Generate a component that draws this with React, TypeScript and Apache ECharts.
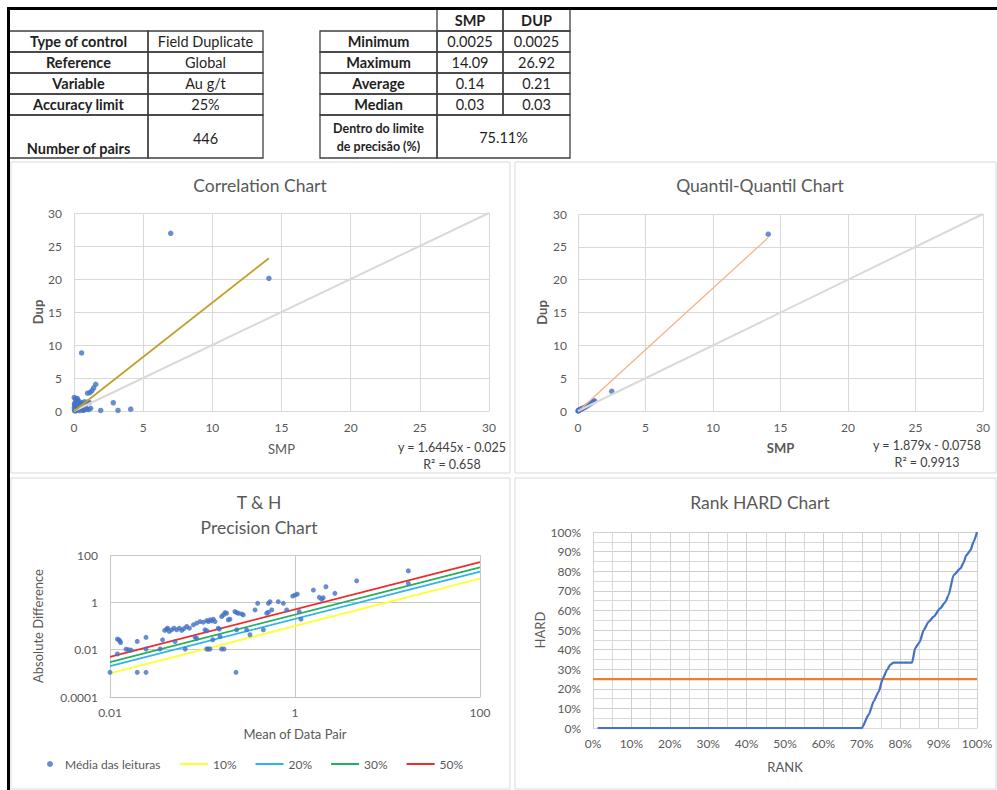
import React, { useEffect, useRef } from "react";
import * as echarts from "echarts";

const FONT = "Lato, 'Open Sans', sans-serif";

// ---------- Summary tables ----------
const controlLabels = ["Type of control", "Reference", "Variable", "Accuracy limit", "Number of pairs"];
const controlValues = ["Field Duplicate", "Global", "Au g/t", "25%", "446"];
const statHeaders = ["SMP", "DUP"];
const statLabels = ["Minimum", "Maximum", "Average", "Median"];
const statSmp = ["0.0025", "14.09", "0.14", "0.03"];
const statDup = ["0.0025", "26.92", "0.21", "0.03"];
const precisionLabel = ["Dentro do limite", "de precisão (%)"];
const precisionValue = "75.11%";

// ---------- Correlation chart (SMP, DUP) ----------
const corrPairs: [number, number][] = [
  [6.99, 26.92], [14.09, 20.1], [0.55, 8.8], [1.57, 4.05], [1.42, 3.5], [1.3, 3.1],
  [1.16, 2.8], [0.98, 2.7], [2.84, 1.25], [1.93, 0.08], [3.18, 0.08], [4.1, 0.28],
  [0.02, 2.05], [0.1, 1.8], [0.22, 1.6], [0.3, 1.35], [0.45, 1.1], [0.55, 1.25],
  [0.65, 1.0], [0.75, 1.4], [0.96, 1.35], [1.1, 1.3], [0.8, 0.55], [0.9, 0.3],
  [1.05, 0.22], [0.72, 0.15], [0.04, 0.05], [0.1, 0.12], [0.15, 0.35], [0.2, 0.65],
  [0.27, 0.95], [0.05, 0.8], [0.08, 1.25], [0.3, 0.22], [0.36, 0.5], [0.45, 0.8],
  [0.5, 0.3], [0.6, 0.6], [0.66, 0.1], [0.13, 0.03], [0.02, 0.45], [0.03, 1.05],
  [0.18, 1.3], [0.4, 0.05], [0.24, 1.9], [0.12, 0.6], [0.35, 1.5], [0.55, 0.85],
  [0.85, 1.05], [1.2, 0.4],
];
const corrSlope = 1.6445;
const corrIntercept = -0.025;
const corrR2 = "0.658";

// ---------- Quantil-Quantil chart ----------
const qqPairs: [number, number][] = [
  [0.0025, 0.0025], [0.02, 0.03], [0.05, 0.08], [0.08, 0.14], [0.12, 0.2], [0.18, 0.26],
  [0.25, 0.3], [0.32, 0.38], [0.4, 0.46], [0.5, 0.55], [0.62, 0.7], [0.72, 0.85],
  [0.85, 1.0], [0.95, 1.15], [1.06, 1.32], [1.15, 1.45], [1.23, 1.55], [2.5, 3.0],
  [14.09, 26.92],
];
const qqSlope = 1.879;
const qqIntercept = -0.0758;
const qqR2 = "0.9913";

// ---------- T & H precision chart (mean of pair, absolute difference) ----------
const thPairs: [number, number][] = [
  [0.01, 0.0011], [0.012, 0.0066], [0.012, 0.028], [0.0125, 0.026], [0.0128, 0.023], [0.013, 0.02],
  [0.0149, 0.0105], [0.0158, 0.01], [0.0169, 0.0096], [0.0197, 0.0224], [0.0197, 0.0011],
  [0.0245, 0.033], [0.0245, 0.0107], [0.0245, 0.0011], [0.0348, 0.0107], [0.037, 0.026],
  [0.039, 0.065], [0.041, 0.074], [0.042, 0.081],
  [0.0437, 0.059], [0.0464, 0.069], [0.0492, 0.081], [0.0526, 0.069], [0.0563, 0.081],
  [0.0596, 0.065], [0.0631, 0.078], [0.0674, 0.095], [0.0722, 0.081],
  [0.0505, 0.022], [0.065, 0.0107], [0.083, 0.034], [0.0865, 0.03],
  [0.0796, 0.112], [0.0865, 0.1315], [0.094, 0.154], [0.102, 0.145], [0.111, 0.17],
  [0.1156, 0.154], [0.1205, 0.1815], [0.1256, 0.165], [0.131, 0.194], [0.1365, 0.154],
  [0.111, 0.0107], [0.1156, 0.0107], [0.1205, 0.0107], [0.1064, 0.069], [0.111, 0.063],
  [0.129, 0.0263], [0.148, 0.081], [0.152, 0.0736], [0.161, 0.25], [0.168, 0.294],
  [0.175, 0.368], [0.182, 0.345], [0.1545, 0.036], [0.161, 0.0107], [0.1706, 0.0107],
  [0.19, 0.1815], [0.198, 0.194], [0.224, 0.406], [0.234, 0.368], [0.234, 0.069],
  [0.23, 0.0011], [0.244, 0.345], [0.265, 0.324], [0.276, 0.294], [0.3, 0.069],
  [0.326, 0.0426], [0.37, 0.477], [0.395, 0.908], [0.455, 0.069], [0.494, 0.345],
  [0.515, 0.38], [0.515, 0.908], [0.537, 1.066], [0.56, 0.477], [0.66, 1.066],
  [0.748, 0.908], [0.813, 0.477], [0.944, 1.84], [1.0, 2.03], [1.06, 2.24],
  [1.11, 0.406], [1.16, 0.194], [1.58, 3.3], [1.83, 1.62], [1.94, 1.34], [2.02, 1.57],
  [2.16, 4.54], [2.7, 2.39], [4.64, 8.1], [16.8, 21.3], [16.8, 6.3],
];
const thLevels = [0.1, 0.2, 0.3, 0.5];
const thLevelNames = ["10%", "20%", "30%", "50%"];
const thLevelColors = ["#FFFF33", "#2EB4EA", "#22B060", "#F02A2A"];
const thRange = [0.01, 100];

// ---------- Rank HARD chart (rank, HARD) ----------
const rankPairs: [number, number][] = [
  [0.012, 0], [0.70, 0], [0.718, 0.068], [0.731, 0.136], [0.744, 0.186], [0.755, 0.254],
  [0.766, 0.297], [0.774, 0.322], [0.783, 0.334], [0.831, 0.334], [0.839, 0.407],
  [0.851, 0.44], [0.861, 0.5], [0.874, 0.542], [0.887, 0.568], [0.904, 0.61],
  [0.918, 0.644], [0.926, 0.678], [0.939, 0.78], [0.957, 0.814], [0.965, 0.844],
  [0.972, 0.881], [0.983, 0.907], [0.991, 0.949], [1.0, 1.0],
];
const accuracyLimit = 0.25;

const GRAY_TXT = "#595959";
const GRID_LINE = "#D9D9D9";

function buildGraphics() {
  const g: any[] = [];
  const border = "#3F3F3F";
  const cell = (x0: number, y0: number, x1: number, y1: number) =>
    g.push({
      type: "rect",
      silent: true,
      shape: { x: x0, y: y0, width: x1 - x0, height: y1 - y0 },
      style: { fill: "none", stroke: border, lineWidth: 1.3 },
    });
  const txt = (text: string, x: number, y: number, bold: boolean, size = 14.5) =>
    g.push({
      type: "text",
      silent: true,
      x,
      y,
      style: {
        text,
        fill: "#1F1F1F",
        fontSize: size,
        fontWeight: bold ? "bold" : "normal",
        fontFamily: FONT,
        align: "center",
        verticalAlign: "middle",
      },
    });

  // chart panels
  const panels = [
    [11, 162, 510, 473],
    [515, 162, 996, 473],
    [11, 478, 510, 789],
    [515, 478, 996, 789],
  ];
  panels.forEach(([x0, y0, x1, y1]) =>
    g.push({
      type: "rect",
      silent: true,
      shape: { x: x0, y: y0, width: x1 - x0, height: y1 - y0 },
      style: { fill: "none", stroke: GRID_LINE, lineWidth: 1 },
    })
  );

  // left table
  const lRows = [31, 52, 73, 94, 115, 158];
  const lCols = [9, 148, 263];
  controlLabels.forEach((lab, i) => {
    cell(lCols[0], lRows[i], lCols[1], lRows[i + 1]);
    cell(lCols[1], lRows[i], lCols[2], lRows[i + 1]);
    const last = i === controlLabels.length - 1;
    const mid = (lRows[i] + lRows[i + 1]) / 2;
    txt(lab, (lCols[0] + lCols[1]) / 2, last ? 148 : mid, true);
    txt(controlValues[i], (lCols[1] + lCols[2]) / 2, last ? 138 : mid, false);
  });

  // right table
  const rRows = [31, 52, 73, 94, 115, 158];
  const rCols = [320, 437, 503, 570];
  statHeaders.forEach((h, j) => {
    cell(rCols[j + 1], 9, rCols[j + 2], 31);
    txt(h, (rCols[j + 1] + rCols[j + 2]) / 2, 20, true);
  });
  statLabels.forEach((lab, i) => {
    const mid = (rRows[i] + rRows[i + 1]) / 2;
    cell(rCols[0], rRows[i], rCols[1], rRows[i + 1]);
    cell(rCols[1], rRows[i], rCols[2], rRows[i + 1]);
    cell(rCols[2], rRows[i], rCols[3], rRows[i + 1]);
    txt(lab, (rCols[0] + rCols[1]) / 2, mid, true);
    txt(statSmp[i], (rCols[1] + rCols[2]) / 2, mid, false);
    txt(statDup[i], (rCols[2] + rCols[3]) / 2, mid, false);
  });
  cell(rCols[0], rRows[4], rCols[1], rRows[5]);
  cell(rCols[1], rRows[4], rCols[3], rRows[5]);
  txt(precisionLabel[0], (rCols[0] + rCols[1]) / 2, 128, true, 12.5);
  txt(precisionLabel[1], (rCols[0] + rCols[1]) / 2, 146, true, 12.5);
  txt(precisionValue, (rCols[1] + rCols[3]) / 2, 137, false);

  // thick black frame lines
  g.push({ type: "rect", silent: true, shape: { x: 7, y: 7, width: 990, height: 3 }, style: { fill: "#000" } });
  g.push({ type: "rect", silent: true, shape: { x: 7, y: 7, width: 3, height: 783 }, style: { fill: "#000" } });

  // trendline equations
  const eq = (text: string, x: number, y: number) =>
    g.push({
      type: "text",
      silent: true,
      x,
      y,
      style: { text, fill: "#404040", fontSize: 12.5, fontFamily: FONT, align: "center", verticalAlign: "middle" },
    });
  const fmtEq = (s: number, b: number) => `y = ${s}x ${b < 0 ? "-" : "+"} ${Math.abs(b)}`;
  eq(fmtEq(corrSlope, corrIntercept), 452, 447);
  eq(`R² = ${corrR2}`, 452, 464);
  eq(fmtEq(qqSlope, qqIntercept), 927, 445);
  eq(`R² = ${qqR2}`, 927, 462);
  return g;
}

const axisLabel = (margin: number, extra: any = {}) => ({
  color: GRAY_TXT,
  fontSize: 12,
  fontFamily: FONT,
  margin,
  ...extra,
});
const nameStyle = (bold: boolean) => ({
  color: GRAY_TXT,
  fontSize: 13,
  fontFamily: FONT,
  fontWeight: bold ? "bold" : "normal",
});
const logFmt = (v: number) => String(Number(v.toPrecision(6)));
const pctFmt = (v: number) => `${Math.round(v * 100)}%`;

export default function App() {
  const ref = useRef<HTMLDivElement>(null);
  useEffect(() => {
    if (!ref.current) return;
    const chart = echarts.init(ref.current, undefined, { renderer: "svg" });

    const corrMaxX = Math.max(...corrPairs.map((p) => p[0]));
    const corrMinX = Math.min(...corrPairs.map((p) => p[0]));
    const qqMaxX = Math.max(...qqPairs.map((p) => p[0]));
    const qqMinX = Math.min(...qqPairs.map((p) => p[0]));

    const linearAxis = (gridIndex: number, name: string, bold: boolean, gap: number, isX: boolean, margin: number) => ({
      gridIndex,
      type: "value",
      min: 0,
      max: 30,
      interval: 5,
      name,
      nameLocation: "middle",
      nameGap: gap,
      nameTextStyle: nameStyle(bold),
      axisLine: { show: isX, lineStyle: { color: GRID_LINE } },
      axisTick: { show: false },
      splitLine: { lineStyle: { color: GRID_LINE } },
      axisLabel: axisLabel(margin),
    });

    const legendText = { color: GRAY_TXT, fontSize: 12, fontFamily: FONT };

    const option: any = {
      animation: false,
      backgroundColor: "#ffffff",
      textStyle: { fontFamily: FONT },
      title: [
        { text: "Correlation Chart", left: 260, top: 176 },
        { text: "Quantil-Quantil Chart", left: 760, top: 176 },
        { text: "T & H\nPrecision Chart", left: 259, top: 490, textStyle: { lineHeight: 25 } },
        { text: "Rank HARD Chart", left: 760, top: 493 },
      ].map((t) => ({
        ...t,
        textAlign: "center",
        padding: 0,
        textStyle: { fontSize: 17.5, fontWeight: "normal", color: GRAY_TXT, fontFamily: FONT, ...(t as any).textStyle },
      })),
      legend: [
        {
          data: [{ name: "Média das leituras", icon: "circle" }],
          left: 47,
          top: 758,
          padding: 0,
          itemWidth: 20,
          itemHeight: 6,
          textStyle: legendText,
        },
        {
          data: thLevelNames.map((n) => ({ name: n, icon: "rect" })),
          left: 180,
          top: 758,
          padding: 0,
          itemWidth: 28,
          itemHeight: 2,
          itemGap: 19,
          textStyle: legendText,
        },
      ],
      grid: [
        { left: 74, top: 213, width: 415, height: 198 },
        { left: 578, top: 214, width: 405, height: 197 },
        { left: 110, top: 555, width: 370, height: 142 },
        { left: 593, top: 532, width: 384, height: 196 },
      ],
      xAxis: [
        linearAxis(0, "SMP", false, 31, true, 10),
        linearAxis(1, "SMP", true, 30, true, 10),
        {
          gridIndex: 2,
          type: "log",
          logBase: 10,
          min: thRange[0],
          max: thRange[1],
          interval: 2,
          name: "Mean of Data Pair",
          nameLocation: "middle",
          nameGap: 30,
          nameTextStyle: nameStyle(false),
          axisLine: { show: true, lineStyle: { color: "#BFBFBF" } },
          axisTick: { show: false },
          minorTick: { show: false },
          splitLine: { lineStyle: { color: "#C8C8C8" } },
          axisLabel: axisLabel(9, { formatter: logFmt }),
        },
        {
          gridIndex: 3,
          type: "value",
          min: 0,
          max: 1,
          interval: 0.1,
          name: "RANK",
          nameLocation: "middle",
          nameGap: 32,
          nameTextStyle: nameStyle(false),
          axisLine: { show: true, lineStyle: { color: GRID_LINE } },
          axisTick: { show: false },
          splitLine: { lineStyle: { color: "#D0D0D0" } },
          minorTick: { show: false, splitNumber: 2 },
          minorSplitLine: { show: true, lineStyle: { color: "#D9D9D9" } },
          axisLabel: axisLabel(9, { formatter: pctFmt }),
        },
      ],
      yAxis: [
        linearAxis(0, "Dup", true, 30, false, 12),
        linearAxis(1, "Dup", true, 30, false, 11),
        {
          gridIndex: 2,
          type: "log",
          logBase: 10,
          min: 0.0001,
          max: 100,
          interval: 2,
          name: "Absolute Difference",
          nameLocation: "middle",
          nameGap: 66,
          nameTextStyle: nameStyle(false),
          axisLine: { show: false },
          axisTick: { show: false },
          minorTick: { show: false },
          splitLine: { lineStyle: { color: "#C8C8C8" } },
          axisLabel: axisLabel(12, { formatter: logFmt }),
        },
        {
          gridIndex: 3,
          type: "value",
          min: 0,
          max: 1,
          interval: 0.1,
          name: "HARD",
          nameLocation: "middle",
          nameGap: 46,
          nameTextStyle: nameStyle(false),
          axisLine: { show: false },
          axisTick: { show: false },
          splitLine: { lineStyle: { color: "#D0D0D0" } },
          minorTick: { show: false, splitNumber: 2 },
          minorSplitLine: { show: true, lineStyle: { color: "#D9D9D9" } },
          axisLabel: axisLabel(12, { formatter: pctFmt }),
        },
      ],
      series: [
        // correlation
        {
          name: "Corr 1:1",
          type: "line",
          xAxisIndex: 0,
          yAxisIndex: 0,
          data: [[0, 0], [30, 30]],
          symbol: "none",
          lineStyle: { color: GRID_LINE, width: 2 },
          silent: true,
        },
        {
          name: "Corr points",
          type: "scatter",
          xAxisIndex: 0,
          yAxisIndex: 0,
          data: corrPairs,
          symbolSize: 5.5,
          itemStyle: { color: "#4472C4" },
        },
        {
          name: "Corr trend",
          type: "line",
          xAxisIndex: 0,
          yAxisIndex: 0,
          data: [
            [corrMinX, corrSlope * corrMinX + corrIntercept],
            [corrMaxX, corrSlope * corrMaxX + corrIntercept],
          ],
          symbol: "none",
          lineStyle: { color: "#BFA02A", width: 1.75 },
          silent: true,
        },
        // QQ
        {
          name: "QQ 1:1",
          type: "line",
          xAxisIndex: 1,
          yAxisIndex: 1,
          data: [[0, 0], [30, 30]],
          symbol: "none",
          lineStyle: { color: GRID_LINE, width: 2 },
          silent: true,
        },
        {
          name: "QQ points",
          type: "scatter",
          xAxisIndex: 1,
          yAxisIndex: 1,
          data: qqPairs,
          symbolSize: 5.5,
          itemStyle: { color: "#4472C4" },
        },
        {
          name: "QQ trend",
          type: "line",
          xAxisIndex: 1,
          yAxisIndex: 1,
          data: [
            [Math.max(qqMinX, 0.1), qqSlope * Math.max(qqMinX, 0.1) + qqIntercept],
            [qqMaxX, qqSlope * qqMaxX + qqIntercept],
          ],
          symbol: "none",
          lineStyle: { color: "#F4B183", width: 1.25 },
          silent: true,
        },
        // T & H
        {
          name: "Média das leituras",
          type: "scatter",
          xAxisIndex: 2,
          yAxisIndex: 2,
          data: thPairs,
          symbolSize: 5,
          itemStyle: { color: "#4472C4" },
          z: 3,
        },
        ...thLevels.map((p, i) => ({
          name: thLevelNames[i],
          type: "line",
          xAxisIndex: 2,
          yAxisIndex: 2,
          data: thRange.map((x) => [x, p * x]),
          symbol: "none",
          lineStyle: { color: thLevelColors[i], width: 1.75 },
          itemStyle: { color: thLevelColors[i] },
          silent: true,
          z: 2,
        })),
        // Rank HARD
        {
          name: "Limit",
          type: "line",
          xAxisIndex: 3,
          yAxisIndex: 3,
          data: [[0, accuracyLimit], [1, accuracyLimit]],
          symbol: "none",
          lineStyle: { color: "#ED7D31", width: 2.25 },
          silent: true,
        },
        {
          name: "HARD",
          type: "line",
          xAxisIndex: 3,
          yAxisIndex: 3,
          data: rankPairs,
          symbol: "none",
          smooth: 0.2,
          smoothMonotone: "x",
          lineStyle: { color: "#4472C4", width: 2.25 },
          silent: true,
        },
      ],
      graphic: buildGraphics(),
    };
    chart.setOption(option);
    return () => chart.dispose();
  }, []);

  return (
    <div
      ref={ref}
      style={{ position: "absolute", left: 0, top: 0, width: 997, height: 790, background: "#fff" }}
    />
  );
}
